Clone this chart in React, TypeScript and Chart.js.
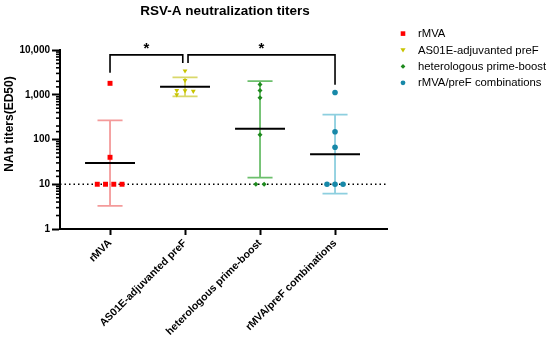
import React, { useEffect, useRef } from 'react';
import { Chart, registerables } from 'chart.js';

Chart.register(...registerables);

const FONT = "'Liberation Sans', Arial, Helvetica, sans-serif";

const titleText = 'RSV-A neutralization titers';
const yAxisTitle = 'NAb titers(ED50)';
const categories = ['rMVA', 'AS01E-adjuvanted preF', 'heterologous prime-boost', 'rMVA/preF combinations'];

const rMVAValues = [1800, 40, 10, 10, 10, 10];
const rMVAJitter = [0, 0, -0.17, -0.06, 0.05, 0.16];
const preFValues = [3430, 2090, 1250, 1230, 1200, 1000];
const preFJitter = [0, 0, -0.11, 0, 0.11, -0.11];
const primeBoostValues = [1700, 1250, 857, 127, 10, 10];
const primeBoostJitter = [0, 0, 0, 0, -0.055, 0.055];
const comboValues = [1125, 149, 67, 10, 10, 10];
const comboJitter = [0, 0, 0, -0.107, 0, 0.107];

const geoMeans = [30, 1510, 173, 47];
const errUpper = [268, 2440, 2020, 361];
const errLower = [3.3, 918, 14, 6.2];

const detectionLimit = 10;
const yMin = 1;
const yMax = 10000;

// significance brackets (category positions, titer values)
const bracketStart = [0, 1.04];
const bracketEnd = [0.97, 3];
const bracketTop = [7800, 7800];
const bracketStartLeg = [3100, 5100];
const bracketEndLeg = [5100, 1670];
const bracketLabels = ['*', '*'];

const pointColors = ['#ff0000', '#c8c400', '#1e8a1e', '#1788a8'];
const barColors = ['#f49a9a', '#d9d86a', '#6cbf6c', '#8dcfdf'];
const pointStyles = ['rect', 'triangle', 'rectRot', 'circle'];
const pointRadii = [3.5, 2.8, 2.5, 2.8];
const pointRotations = [0, 180, 0, 0];

const groupValues = [rMVAValues, preFValues, primeBoostValues, comboValues];
const groupJitter = [rMVAJitter, preFJitter, primeBoostJitter, comboJitter];

const isPow10 = (v: number) => Math.abs(Math.log10(v) - Math.round(Math.log10(v))) < 1e-9;

const overlayPlugin = {
  id: 'overlay',
  beforeDatasetsDraw(chart: any) {
    const { ctx, chartArea } = chart;
    const x = chart.scales.x;
    const y = chart.scales.y;
    ctx.save();
    const yl = y.getPixelForValue(detectionLimit);
    ctx.strokeStyle = '#000';
    ctx.lineWidth = 1.4;
    ctx.setLineDash([1.5, 3]);
    ctx.beginPath();
    ctx.moveTo(chartArea.left, yl);
    ctx.lineTo(chartArea.right, yl);
    ctx.stroke();
    ctx.setLineDash([]);
    categories.forEach((_, i) => {
      const cx = x.getPixelForValue(i);
      const capL = x.getPixelForValue(i - 0.167);
      const capR = x.getPixelForValue(i + 0.167);
      const mL = x.getPixelForValue(i - 0.333);
      const mR = x.getPixelForValue(i + 0.333);
      const yu = y.getPixelForValue(errUpper[i]);
      const yd = y.getPixelForValue(errLower[i]);
      const ym = y.getPixelForValue(geoMeans[i]);
      ctx.strokeStyle = barColors[i];
      ctx.lineWidth = 1.8;
      ctx.beginPath();
      ctx.moveTo(cx, yu);
      ctx.lineTo(cx, yd);
      ctx.moveTo(capL, yu);
      ctx.lineTo(capR, yu);
      ctx.moveTo(capL, yd);
      ctx.lineTo(capR, yd);
      ctx.stroke();
      ctx.strokeStyle = '#000';
      ctx.lineWidth = 2;
      ctx.beginPath();
      ctx.moveTo(mL, ym);
      ctx.lineTo(mR, ym);
      ctx.stroke();
    });
    ctx.restore();
  },
  afterDraw(chart: any) {
    const { ctx, chartArea } = chart;
    const x = chart.scales.x;
    const y = chart.scales.y;
    ctx.save();
    ctx.strokeStyle = '#000';
    ctx.lineWidth = 1.6;
    y.ticks.forEach((t: any) => {
      if (isPow10(t.value)) return;
      const py = y.getPixelForValue(t.value);
      ctx.beginPath();
      ctx.moveTo(chartArea.left - 4, py);
      ctx.lineTo(chartArea.left, py);
      ctx.stroke();
    });
    ctx.lineWidth = 1.6;
    bracketStart.forEach((s, i) => {
      const x1 = x.getPixelForValue(s);
      const x2 = x.getPixelForValue(bracketEnd[i]);
      const yt = y.getPixelForValue(bracketTop[i]);
      const y1 = y.getPixelForValue(bracketStartLeg[i]);
      const y2 = y.getPixelForValue(bracketEndLeg[i]);
      ctx.beginPath();
      ctx.moveTo(x1, y1);
      ctx.lineTo(x1, yt);
      ctx.lineTo(x2, yt);
      ctx.lineTo(x2, y2);
      ctx.stroke();
      ctx.fillStyle = '#000';
      ctx.font = `bold 15px ${FONT}`;
      ctx.textAlign = 'center';
      ctx.textBaseline = 'middle';
      ctx.fillText(bracketLabels[i], (x1 + x2) / 2, yt - 6);
    });
    ctx.fillStyle = '#000';
    ctx.font = `bold 13.5px ${FONT}`;
    ctx.textAlign = 'center';
    ctx.textBaseline = 'middle';
    ctx.fillText(titleText, 225, 11);
    ctx.save();
    ctx.translate(10, 124);
    ctx.rotate(-Math.PI / 2);
    ctx.font = `bold 12px ${FONT}`;
    ctx.fillText(yAxisTitle, 0, 0);
    ctx.restore();
    ctx.font = `11.3px ${FONT}`;
    ctx.textAlign = 'left';
    categories.forEach((label, i) => {
      const ly = 33.6 + i * 16.4;
      const mx = 403;
      ctx.fillStyle = pointColors[i];
      ctx.beginPath();
      if (pointStyles[i] === 'rect') {
        ctx.rect(mx - 2.3, ly - 2.3, 4.6, 4.6);
      } else if (pointStyles[i] === 'triangle') {
        ctx.moveTo(mx - 2.6, ly - 1.8);
        ctx.lineTo(mx + 2.6, ly - 1.8);
        ctx.lineTo(mx, ly + 2.6);
        ctx.closePath();
      } else if (pointStyles[i] === 'rectRot') {
        ctx.moveTo(mx, ly - 2.4);
        ctx.lineTo(mx + 2.4, ly);
        ctx.lineTo(mx, ly + 2.4);
        ctx.lineTo(mx - 2.4, ly);
        ctx.closePath();
      } else {
        ctx.arc(mx, ly, 2.4, 0, Math.PI * 2);
      }
      ctx.fill();
      ctx.fillStyle = '#000';
      ctx.fillText(label, 418, ly + 0.5);
    });
    ctx.restore();
  },
};

export default function App() {
  const canvasRef = useRef<HTMLCanvasElement | null>(null);

  useEffect(() => {
    if (!canvasRef.current) return;
    Chart.defaults.font.family = FONT;
    Chart.defaults.color = '#000';
    const datasets = groupValues.map((vals, g) => ({
      label: categories[g],
      data: vals.map((v, k) => ({ x: g + groupJitter[g][k], y: v })),
      pointStyle: pointStyles[g] as any,
      pointRadius: pointRadii[g],
      pointRotation: pointRotations[g],
      backgroundColor: pointColors[g],
      borderColor: pointColors[g],
      borderWidth: 0,
      showLine: false,
      clip: false as any,
    }));
    const chart = new Chart(canvasRef.current, {
      type: 'scatter',
      data: { datasets },
      options: {
        responsive: false,
        animation: false,
        layout: { padding: { left: 0, top: 50, right: 163, bottom: 0 } },
        plugins: { legend: { display: false }, title: { display: false }, tooltip: { enabled: false } },
        scales: {
          x: {
            type: 'linear',
            min: -0.667,
            max: 3.693,
            afterBuildTicks: (axis: any) => {
              axis.ticks = categories.map((_, i) => ({ value: i }));
            },
            afterFit: (axis: any) => {
              axis.height = 111;
            },
            grid: { drawOnChartArea: false, drawTicks: true, tickLength: 6, tickWidth: 2, tickColor: '#000' },
            border: { display: true, color: '#000', width: 2 },
            ticks: {
              autoSkip: false,
              minRotation: 45,
              maxRotation: 45,
              padding: 2,
              font: { size: 10.5, weight: 'bold' },
              color: '#000',
              callback: (v: any) => categories[Math.round(Number(v))] ?? '',
            },
          },
          y: {
            type: 'logarithmic',
            min: yMin,
            max: yMax,
            afterFit: (axis: any) => {
              axis.width = 60;
            },
            grid: {
              drawOnChartArea: false,
              drawTicks: true,
              tickLength: 8,
              tickWidth: 2,
              tickColor: (c: any) => (c.tick && isPow10(c.tick.value) ? '#000' : 'rgba(0,0,0,0)'),
            },
            border: { display: true, color: '#000', width: 2 },
            ticks: {
              autoSkip: false,
              padding: 2,
              font: { size: 10, weight: 'bold' },
              color: '#000',
              callback: (v: any) => (isPow10(Number(v)) ? Number(v).toLocaleString('en-US') : ''),
            },
          },
        },
      },
      plugins: [overlayPlugin],
    });
    return () => chart.destroy();
  }, []);

  return (
    <div style={{ position: 'fixed', left: 0, top: 0, width: 550, height: 340, background: '#fff' }}>
      <canvas ref={canvasRef} width={550} height={340} style={{ width: 550, height: 340 }} />
    </div>
  );
}
